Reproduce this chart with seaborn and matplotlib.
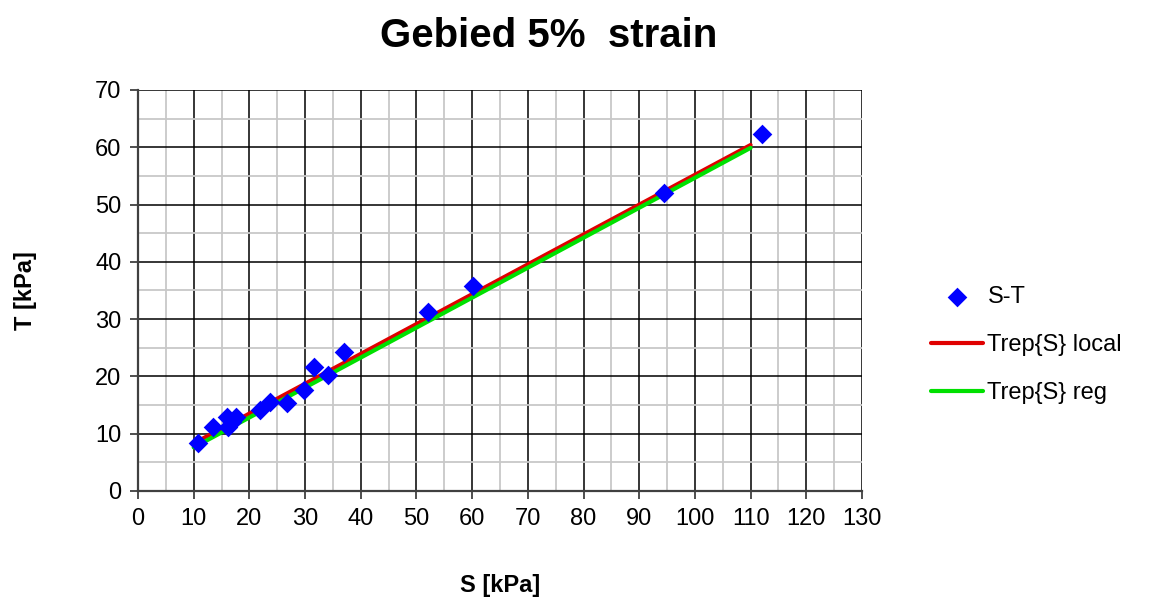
import matplotlib
matplotlib.use("Agg")
import matplotlib.pyplot as plt
import seaborn as sns
import pandas as pd
from matplotlib.ticker import MultipleLocator

# Data
S = [10.8, 13.4, 15.9, 16.2, 16.8, 17.6, 21.9, 23.7, 26.7, 29.8, 31.6, 34.2, 37.0, 52.1, 60.1, 94.5, 112.1]
T = [8.4, 11.2, 13.0, 11.2, 12.0, 12.9, 14.1, 15.6, 15.3, 17.6, 21.6, 20.2, 24.3, 31.3, 35.7, 52.1, 62.3]
local_S = [10, 110]
local_T = [8.3, 60.4]
reg_S = [10, 110]
reg_T = [7.6, 59.9]

sns.set_theme(style="white")
plt.rcParams['font.family'] = ['Liberation Sans', 'DejaVu Sans']
plt.rcParams['text.color'] = 'black'
plt.rcParams['axes.labelcolor'] = 'black'
plt.rcParams['xtick.color'] = 'black'
plt.rcParams['ytick.color'] = 'black'

fig = plt.figure(figsize=(11.51, 6.0), dpi=100)
ax = fig.add_axes([0.1199, 0.1817, 0.629, 0.6683])

df_pts = pd.DataFrame({"S": S, "T": T})
df_local = pd.DataFrame({"S": local_S, "T": local_T})
df_reg = pd.DataFrame({"S": reg_S, "T": reg_T})

ax.set_xlim(0, 130)
ax.set_ylim(0, 70)
ax.xaxis.set_major_locator(MultipleLocator(10))
ax.yaxis.set_major_locator(MultipleLocator(10))
ax.xaxis.set_minor_locator(MultipleLocator(5))
ax.yaxis.set_minor_locator(MultipleLocator(5))
ax.grid(which='minor', color='#c8c8c8', linewidth=1.3, zorder=0)
ax.grid(which='major', color='#000000', linewidth=1.1, zorder=0)
ax.set_axisbelow(True)

sns.lineplot(data=df_local, x="S", y="T", ax=ax, color='#e00000', linewidth=3, label='Trep{S} local', zorder=3)
sns.lineplot(data=df_reg, x="S", y="T", ax=ax, color='#00e000', linewidth=3, label='Trep{S} reg', zorder=4)
sns.scatterplot(data=df_pts, x="S", y="T", ax=ax, marker='D', s=100, color='#0000ff', edgecolor='#0000ff', linewidth=0, label='S-T', zorder=5)

for side in ['top', 'right']:
    ax.spines[side].set_visible(False)
for side in ['left', 'bottom']:
    ax.spines[side].set_color('#404040')
    ax.spines[side].set_linewidth(1.6)

ax.tick_params(axis='both', which='major', direction='out', length=6, width=1.3, color='#404040', labelcolor='black', labelsize=17, pad=6, bottom=True, left=True)
ax.tick_params(axis='both', which='minor', length=0)

ax.set_xlabel('S [kPa]', fontsize=17, fontweight='bold', labelpad=32, color='black')
ax.set_ylabel('T [kPa]', fontsize=17, fontweight='bold', labelpad=42, color='black')

fig.text(0.4765, 0.94, 'Gebied 5%  strain', ha='center', va='center', fontsize=29, fontweight='bold', color='black')

handles, labels = ax.get_legend_handles_labels()
order = [labels.index('S-T'), labels.index('Trep{S} local'), labels.index('Trep{S} reg')]
leg = ax.legend([handles[i] for i in order], [labels[i] for i in order],
                loc='center left', bbox_to_anchor=(1.082, 0.364), frameon=False, fontsize=17,
                handlelength=2.2, handletextpad=0.2, labelspacing=1.1, borderaxespad=0)
for t in leg.get_texts():
    t.set_color('black')

fig.savefig('out.png', dpi=100)
